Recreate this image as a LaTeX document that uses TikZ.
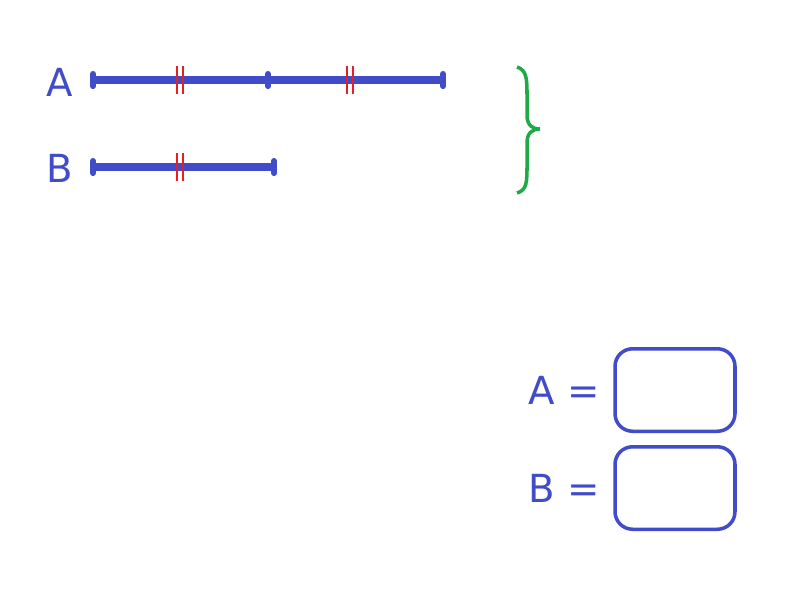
\documentclass[tikz,border=0pt]{standalone}
\usepackage{fontspec}
\setmainfont{DejaVu Sans}
\usetikzlibrary{positioning}
\definecolor{segblue}{RGB}{64,76,200}
\definecolor{tickred}{RGB}{230,30,40}
\definecolor{bracegreen}{RGB}{30,170,70}
\tikzset{
  seg/.style={segblue, line width=4pt},
  endmark/.style={segblue, line width=3.5pt, line cap=round},
  eqmark/.style={tickred, line width=1pt},
  lbl/.style={segblue, font=\fontsize{22}{26}\selectfont},
  answer/.style={draw=segblue, line width=2pt, rounded corners=10pt, minimum width=2.4cm, minimum height=1.65cm}
}
\begin{document}
\begin{tikzpicture}[x=0.02cm,y=-0.02cm]
    \useasboundingbox (0,0) rectangle (800,600);
    % Segments
    \coordinate (a0) at (93,80);
    \coordinate (a1) at (268,80);
    \coordinate (a2) at (443,80);
    \coordinate (b0) at (93,167);
    \coordinate (b1) at (274,167);
    \draw[seg] (a0) -- (a2);
    \draw[seg] (b0) -- (b1);
    \foreach \p in {a0,a1,a2,b0,b1}
        \draw[endmark] ([yshift=0.12cm]\p) -- ([yshift=-0.12cm]\p);
    % Equal marks
    \foreach \x/\y in {180/80,350/80,180/167}{
        \draw[eqmark] (\x-3,\y-14) -- (\x-3,\y+14);
        \draw[eqmark] (\x+3,\y-14) -- (\x+3,\y+14);
    }
    \node[lbl] (la) at (60,82) {A};
    \node[lbl] (lb) at (60,168) {B};
    % Brace
    \draw[bracegreen, line width=2pt] (517,67) .. controls (527,70) and (527,80) .. (527,95)
        -- (527,115) .. controls (527,125) and (532,129) .. (540,129)
        .. controls (532,129) and (527,133) .. (527,143)
        -- (527,165) .. controls (527,182) and (527,190) .. (517,193);
    % Answers
    \node[answer] (boxa) at (675,390) {};
    \node[answer] (boxb) at (675,488) {};
    \node[lbl, left=0.15cm of boxa] (eqa) {A =};
    \node[lbl, left=0.15cm of boxb] (eqb) {B =};
\end{tikzpicture}
\end{document}
